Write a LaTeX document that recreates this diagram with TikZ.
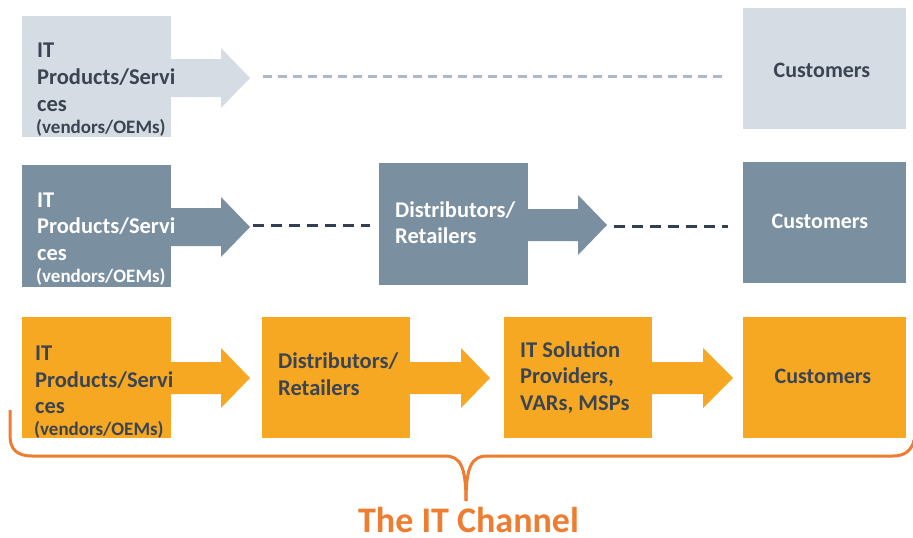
\documentclass[tikz,border=0pt]{standalone}
\usepackage{fontspec}
\setmainfont{Carlito}
\definecolor{lightA}{HTML}{D6DCE4}
\definecolor{midA}{HTML}{7A8F9F}
\definecolor{orangeA}{HTML}{F6A823}
\definecolor{dashL}{HTML}{ADB9CA}
\definecolor{dashD}{HTML}{333F50}
\definecolor{txtD}{HTML}{3B4452}
\definecolor{braceC}{HTML}{ED7D31}
\newcommand\blockarr[7]{\fill[#7] (#1,{#4-#5}) -- (#2,{#4-#5}) -- (#2,{#4-#6}) -- (#3,#4) -- (#2,{#4+#6}) -- (#2,{#4+#5}) -- (#1,{#4+#5}) -- cycle;}
\tikzset{
  box/.style={rectangle, draw=none, inner sep=0pt},
  big/.style={anchor=base west, inner sep=0pt, font=\fontsize{22.5}{26}\selectfont\bfseries},
  small/.style={anchor=base west, inner sep=0pt, font=\fontsize{19}{22}\selectfont\bfseries},
  cust/.style={anchor=base, inner sep=0pt, font=\fontsize{22}{26}\selectfont\bfseries},
  dashLight/.style={draw=dashL, line width=3pt, dash pattern=on 9pt off 6pt},
  dashDark/.style={draw=dashD, line width=3pt, dash pattern=on 11pt off 7pt},
  bracestyle/.style={draw=braceC, line width=3pt}
}
\begin{document}
\begin{tikzpicture}[x=1pt,y=-1pt]
\useasboundingbox (0,0) rectangle (913,538);
% Row 1
\node[box, fill=lightA, minimum width=149pt, minimum height=121pt] (a1) at (96.5,76.5) {};
\node[box, fill=lightA, minimum width=163pt, minimum height=121pt] (c1) at (824.5,68.5) {};
\blockarr{171}{221}{250}{78}{19}{30}{lightA}
\coordinate (t1) at (250,76);
\draw[dashLight] ([xshift=13pt]t1) -- ([xshift=-15pt]c1.west |- t1);
\begin{scope}[text=txtD]
\node[big] (a1l1) at (37,57) {IT};
\node[big] (a1l2) at (37,84) {Products/Servi};
\node[big] (a1l3) at (37,111) {ces};
\node[small] (a1l4) at (36,133) {(vendors/OEMs)};
\node[cust] (c1t) at (822,77) {Customers};
\end{scope}
% Row 2
\node[box, fill=midA, minimum width=149pt, minimum height=122pt] (a2) at (96.5,226) {};
\node[box, fill=midA, minimum width=149pt, minimum height=122pt] (d2) at (453.5,224) {};
\node[box, fill=midA, minimum width=163pt, minimum height=121pt] (c2) at (824.5,222.5) {};
\blockarr{171}{221}{250}{227}{19}{30}{midA}
\blockarr{528}{578}{607}{225}{16}{30}{midA}
\coordinate (t2) at (250,225);
\coordinate (t3) at (607,226);
\draw[dashDark] ([xshift=3pt]t2) -- ([xshift=-9pt]d2.west |- t2);
\draw[dashDark] ([xshift=7pt]t3) -- ([xshift=-15pt]c2.west |- t3);
\begin{scope}[text=white]
\node[big] (a2l1) at (37,207) {IT};
\node[big] (a2l2) at (37,233) {Products/Servi};
\node[big] (a2l3) at (37,260) {ces};
\node[small] (a2l4) at (36,282) {(vendors/OEMs)};
\node[big] (d2l1) at (395,217) {Distributors/};
\node[big] (d2l2) at (395,243) {Retailers};
\node[cust] (c2t) at (820,228) {Customers};
\end{scope}
% Row 3
\node[box, fill=orangeA, minimum width=149pt, minimum height=121pt] (a3) at (96.5,377.5) {};
\node[box, fill=orangeA, minimum width=148pt, minimum height=121pt] (d3) at (336,377.5) {};
\node[box, fill=orangeA, minimum width=148pt, minimum height=121pt] (s3) at (578,377.5) {};
\node[box, fill=orangeA, minimum width=163pt, minimum height=121pt] (c3) at (824.5,377.5) {};
\blockarr{171}{221}{250}{378}{16}{30}{orangeA}
\blockarr{410}{461}{490}{378}{16}{30}{orangeA}
\blockarr{652}{703}{733}{378}{16}{30}{orangeA}
\begin{scope}[text=txtD]
\node[big] (a3l1) at (35,360) {IT};
\node[big] (a3l2) at (35,387) {Products/Servi};
\node[big] (a3l3) at (35,413) {ces};
\node[small] (a3l4) at (34,435) {(vendors/OEMs)};
\node[big] (d3l1) at (278,368) {Distributors/};
\node[big] (d3l2) at (278,395) {Retailers};
\node[big] (s3l1) at (520,357) {IT Solution};
\node[big] (s3l2) at (520,383) {Providers,};
\node[big] (s3l3) at (520,410) {VARs, MSPs};
\node[cust] (c3t) at (823,383) {Customers};
\end{scope}
% Brace and title
\coordinate (btip) at (466,501);
\draw[bracestyle] (10,410) -- (10,436) .. controls (10,450) and (18,456) .. (32,456) -- (445,456) .. controls (460,456) and (466,466) .. (btip);
\draw[bracestyle] (btip) .. controls (466,466) and (472,456) .. (487,456) -- (893,456) .. controls (905,456) and (912,450) .. (914,440);
\node[anchor=base, inner sep=0pt, text=braceC, font=\fontsize{36}{40}\selectfont\bfseries] (title) at (468.5,532) {The IT Channel};
\end{tikzpicture}
\end{document}
